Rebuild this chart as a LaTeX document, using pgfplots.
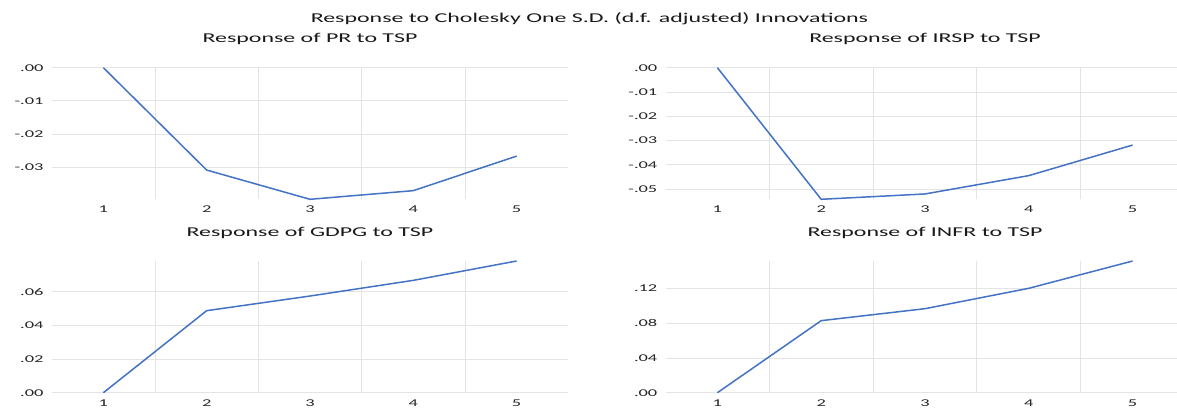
\documentclass[border=0pt]{standalone}
\usepackage{graphicx}
\usepackage{fontspec}
\setmainfont{Carlito}
\usepackage{pgfplots}
\pgfplotsset{compat=1.18}
\definecolor{lineblue}{HTML}{4472C4}
\definecolor{gridgray}{HTML}{E4E4E4}
\newcommand{\sx}[1]{\scalebox{1.77}[1]{#1}}
\newcommand{\titlefont}{\fontsize{13.5bp}{16bp}\selectfont}
\newcommand{\tickfont}{\fontsize{10.4bp}{12bp}\selectfont}
\pgfplotsset{
  irf/.style={
    scale only axis,
    anchor=south west,
    xmin=0.5, xmax=5.5,
    xtick={1,2,3,4,5},
    xticklabels={\sx{1},\sx{2},\sx{3},\sx{4},\sx{5}},
    minor xtick={1.5,2.5,3.5,4.5},
    xminorgrids=true,
    ymajorgrids=true,
    scaled y ticks=false,
    scaled x ticks=false,
    major tick length=0pt,
    minor tick length=0pt,
    axis line style={draw=none},
    grid style={draw=gridgray, line width=0.9bp},
    minor grid style={draw=gridgray, line width=0.9bp},
    clip=false,
    ticklabel style={font=\tickfont, text=black!85, inner sep=0pt},
    xticklabel style={anchor=north, yshift=-6.5bp},
    yticklabel style={anchor=east, xshift=-8bp},
    title style={at={(0.5,1)}, anchor=base, yshift=19bp, font=\titlefont, text=black!90, inner sep=0pt},
  },
  irfline/.style={draw=lineblue, line width=1.5bp, mark=none},
}
\begin{document}
\begin{tikzpicture}
\useasboundingbox (0,0) rectangle (1177bp,411bp);
\fill[white] (0,0) rectangle (1177bp,411bp);
\node[anchor=base, font=\titlefont, text=black!90, inner sep=0pt] at (589.5bp,388.7bp)
  {\sx{Response to Cholesky One S.D. (d.f. adjusted) Innovations}};

% Top-left: PR
\begin{axis}[irf, at={(51.7bp,211.7bp)}, width=516.6bp, height=131.6bp,
  ymin=-0.0396, ymax=0,
  ytick={-0.03,-0.02,-0.01,0},
  yticklabels={\sx{-.03},\sx{-.02},\sx{-.01},\sx{.00}},
  title={\sx{Response of PR to TSP}}]
\addplot[irfline] coordinates {(1,0) (2,-0.0308) (3,-0.0396) (4,-0.0370) (5,-0.0266)};
\end{axis}

% Top-right: IRSP
\begin{axis}[irf, at={(665.5bp,211.7bp)}, width=519bp, height=131.6bp,
  ymin=-0.05426, ymax=0,
  ytick={-0.05,-0.04,-0.03,-0.02,-0.01,0},
  yticklabels={\sx{-.05},\sx{-.04},\sx{-.03},\sx{-.02},\sx{-.01},\sx{.00}},
  title={\sx{Response of IRSP to TSP}}]
\addplot[irfline] coordinates {(1,0) (2,-0.05426) (3,-0.05206) (4,-0.0445) (5,-0.0319)};
\end{axis}

% Bottom-left: GDPG
\begin{axis}[irf, at={(51.7bp,18.3bp)}, width=516.6bp, height=131.7bp,
  ymin=0, ymax=0.0782,
  ytick={0,0.02,0.04,0.06},
  yticklabels={\sx{.00},\sx{.02},\sx{.04},\sx{.06}},
  title={\sx{Response of GDPG to TSP}}]
\addplot[irfline] coordinates {(1,0) (2,0.0487) (3,0.0574) (4,0.0667) (5,0.0782)};
\end{axis}

% Bottom-right: INFR
\begin{axis}[irf, at={(665.5bp,18.3bp)}, width=519bp, height=131.7bp,
  ymin=0, ymax=0.1519,
  ytick={0,0.04,0.08,0.12},
  yticklabels={\sx{.00},\sx{.04},\sx{.08},\sx{.12}},
  title={\sx{Response of INFR to TSP}}]
\addplot[irfline] coordinates {(1,0) (2,0.0831) (3,0.0969) (4,0.1204) (5,0.1519)};
\end{axis}
\end{tikzpicture}
\end{document}
